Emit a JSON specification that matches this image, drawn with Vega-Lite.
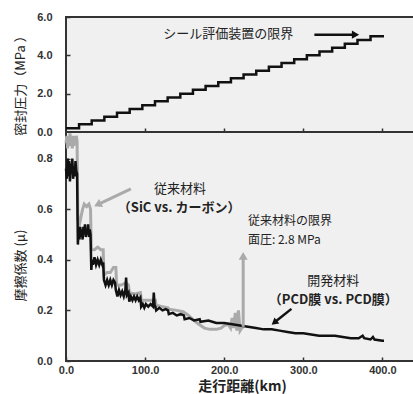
{
  "$schema": "https://vega.github.io/schema/vega-lite/v6.json",
  "background": "white",
  "padding": {"left": 13, "top": 10, "right": 0, "bottom": 0},
  "bounds": "flush",
  "spacing": 0,
  "config": {
    "view": {"fill": "#f0f0f0", "stroke": "#333333", "strokeWidth": 2},
    "axis": {
      "labelFont": "Liberation Sans", "labelFontWeight": "bold", "labelFontSize": 11, "labelColor": "#333333",
      "titleFont": "Noto Sans CJK JP", "titleColor": "#222222", "titleFontSize": 13, "titleFontWeight": "normal",
      "grid": false, "domain": false, "tickColor": "#333333", "tickWidth": 1.5, "tickSize": -4, "labelFlush": false,
      "labelOverlap": false, "labelBound": false
    }
  },
  "datasets": {
    "pressure": [
      {"km": 0, "mpa": 0.2}, {"km": 16.5, "mpa": 0.4}, {"km": 32.5, "mpa": 0.6}, {"km": 48.5, "mpa": 0.8},
      {"km": 64.5, "mpa": 1.0}, {"km": 80.5, "mpa": 1.2}, {"km": 96.5, "mpa": 1.4}, {"km": 112.5, "mpa": 1.6},
      {"km": 128.5, "mpa": 1.8}, {"km": 144.5, "mpa": 2.0}, {"km": 160.5, "mpa": 2.2}, {"km": 176.5, "mpa": 2.4},
      {"km": 192.5, "mpa": 2.6}, {"km": 208.5, "mpa": 2.8}, {"km": 224.5, "mpa": 3.0}, {"km": 240.5, "mpa": 3.2},
      {"km": 256.5, "mpa": 3.4}, {"km": 272.5, "mpa": 3.6}, {"km": 288.5, "mpa": 3.8}, {"km": 304.5, "mpa": 4.0},
      {"km": 320.5, "mpa": 4.2}, {"km": 336.5, "mpa": 4.4}, {"km": 352.5, "mpa": 4.6}, {"km": 368.5, "mpa": 4.8},
      {"km": 385, "mpa": 5.0}, {"km": 402, "mpa": 5.0}
    ],
    "conventional": [
      {"km": 0, "mu": 0.86}, {"km": 1, "mu": 0.89}, {"km": 2, "mu": 0.84}, {"km": 3, "mu": 0.88}, {"km": 4, "mu": 0.85},
      {"km": 5, "mu": 0.9}, {"km": 6, "mu": 0.86}, {"km": 7, "mu": 0.87}, {"km": 8, "mu": 0.84}, {"km": 9, "mu": 0.89},
      {"km": 10, "mu": 0.85}, {"km": 11, "mu": 0.88}, {"km": 12, "mu": 0.86}, {"km": 13, "mu": 0.89}, {"km": 14, "mu": 0.87},
      {"km": 15, "mu": 0.56}, {"km": 17, "mu": 0.54}, {"km": 19, "mu": 0.57}, {"km": 21, "mu": 0.6}, {"km": 23, "mu": 0.62},
      {"km": 26, "mu": 0.61}, {"km": 29, "mu": 0.62}, {"km": 31, "mu": 0.6},
      {"km": 32, "mu": 0.44}, {"km": 36, "mu": 0.44}, {"km": 40, "mu": 0.45}, {"km": 44, "mu": 0.44}, {"km": 47, "mu": 0.44},
      {"km": 48, "mu": 0.34}, {"km": 52, "mu": 0.35}, {"km": 56, "mu": 0.35}, {"km": 60, "mu": 0.37}, {"km": 63, "mu": 0.37},
      {"km": 64, "mu": 0.3}, {"km": 70, "mu": 0.3}, {"km": 76, "mu": 0.31}, {"km": 79, "mu": 0.3},
      {"km": 80, "mu": 0.27}, {"km": 87, "mu": 0.265}, {"km": 94, "mu": 0.27},
      {"km": 95, "mu": 0.24}, {"km": 105, "mu": 0.24}, {"km": 113, "mu": 0.24},
      {"km": 114, "mu": 0.22}, {"km": 122, "mu": 0.215}, {"km": 129, "mu": 0.21},
      {"km": 130, "mu": 0.205}, {"km": 140, "mu": 0.2}, {"km": 148, "mu": 0.195}, {"km": 155, "mu": 0.18},
      {"km": 162, "mu": 0.16}, {"km": 168, "mu": 0.145}, {"km": 175, "mu": 0.13}, {"km": 182, "mu": 0.125},
      {"km": 190, "mu": 0.125}, {"km": 196, "mu": 0.13}, {"km": 200, "mu": 0.14}, {"km": 205, "mu": 0.145},
      {"km": 208, "mu": 0.13}, {"km": 210, "mu": 0.17}, {"km": 212, "mu": 0.13}, {"km": 214, "mu": 0.19},
      {"km": 216, "mu": 0.12}, {"km": 218, "mu": 0.2}, {"km": 220, "mu": 0.12}, {"km": 222, "mu": 0.13}, {"km": 224, "mu": 0.135}
    ],
    "developed": [
      {"km": 0, "mu": 0.76}, {"km": 1, "mu": 0.72}, {"km": 2, "mu": 0.8}, {"km": 3, "mu": 0.73}, {"km": 4, "mu": 0.79},
      {"km": 5, "mu": 0.71}, {"km": 6, "mu": 0.78}, {"km": 7, "mu": 0.74}, {"km": 8, "mu": 0.8}, {"km": 9, "mu": 0.72},
      {"km": 10, "mu": 0.77}, {"km": 11, "mu": 0.73}, {"km": 12, "mu": 0.79}, {"km": 13, "mu": 0.75}, {"km": 14, "mu": 0.74},
      {"km": 15, "mu": 0.46}, {"km": 16, "mu": 0.52}, {"km": 17, "mu": 0.48}, {"km": 18, "mu": 0.53}, {"km": 19, "mu": 0.49},
      {"km": 20, "mu": 0.52}, {"km": 21, "mu": 0.48}, {"km": 22, "mu": 0.53}, {"km": 23, "mu": 0.5}, {"km": 24, "mu": 0.54},
      {"km": 25, "mu": 0.49}, {"km": 26, "mu": 0.52}, {"km": 27, "mu": 0.5}, {"km": 28, "mu": 0.54}, {"km": 29, "mu": 0.49},
      {"km": 30, "mu": 0.52}, {"km": 31, "mu": 0.5},
      {"km": 32, "mu": 0.36}, {"km": 33, "mu": 0.4}, {"km": 34, "mu": 0.38}, {"km": 36, "mu": 0.41}, {"km": 38, "mu": 0.38},
      {"km": 40, "mu": 0.4}, {"km": 42, "mu": 0.38}, {"km": 44, "mu": 0.4}, {"km": 46, "mu": 0.38}, {"km": 47, "mu": 0.39},
      {"km": 48, "mu": 0.32}, {"km": 50, "mu": 0.3}, {"km": 52, "mu": 0.32}, {"km": 54, "mu": 0.3}, {"km": 56, "mu": 0.32},
      {"km": 58, "mu": 0.3}, {"km": 60, "mu": 0.32}, {"km": 62, "mu": 0.31},
      {"km": 63, "mu": 0.28}, {"km": 65, "mu": 0.255}, {"km": 67, "mu": 0.28}, {"km": 69, "mu": 0.26}, {"km": 71, "mu": 0.275},
      {"km": 73, "mu": 0.255}, {"km": 75, "mu": 0.28}, {"km": 76, "mu": 0.33}, {"km": 77, "mu": 0.26}, {"km": 79, "mu": 0.27},
      {"km": 80, "mu": 0.235}, {"km": 82, "mu": 0.255}, {"km": 84, "mu": 0.24}, {"km": 86, "mu": 0.255}, {"km": 88, "mu": 0.24},
      {"km": 90, "mu": 0.255}, {"km": 92, "mu": 0.24}, {"km": 94, "mu": 0.25},
      {"km": 95, "mu": 0.215}, {"km": 97, "mu": 0.225}, {"km": 99, "mu": 0.21}, {"km": 101, "mu": 0.225}, {"km": 104, "mu": 0.215},
      {"km": 107, "mu": 0.225}, {"km": 110, "mu": 0.215}, {"km": 111, "mu": 0.27}, {"km": 112, "mu": 0.22}, {"km": 113, "mu": 0.215},
      {"km": 114, "mu": 0.2}, {"km": 118, "mu": 0.21}, {"km": 122, "mu": 0.2}, {"km": 126, "mu": 0.205}, {"km": 129, "mu": 0.2},
      {"km": 130, "mu": 0.185}, {"km": 135, "mu": 0.19}, {"km": 140, "mu": 0.18}, {"km": 145, "mu": 0.185}, {"km": 149, "mu": 0.18},
      {"km": 150, "mu": 0.165}, {"km": 156, "mu": 0.17}, {"km": 162, "mu": 0.16}, {"km": 169, "mu": 0.165},
      {"km": 170, "mu": 0.155}, {"km": 180, "mu": 0.16}, {"km": 190, "mu": 0.15}, {"km": 200, "mu": 0.15}, {"km": 210, "mu": 0.145},
      {"km": 220, "mu": 0.14}, {"km": 230, "mu": 0.135}, {"km": 240, "mu": 0.13}, {"km": 250, "mu": 0.125}, {"km": 260, "mu": 0.125},
      {"km": 270, "mu": 0.12}, {"km": 280, "mu": 0.115}, {"km": 290, "mu": 0.11}, {"km": 300, "mu": 0.11}, {"km": 310, "mu": 0.105},
      {"km": 320, "mu": 0.1}, {"km": 330, "mu": 0.1}, {"km": 340, "mu": 0.1}, {"km": 350, "mu": 0.095}, {"km": 360, "mu": 0.09},
      {"km": 370, "mu": 0.09}, {"km": 375, "mu": 0.1}, {"km": 377, "mu": 0.09}, {"km": 385, "mu": 0.085}, {"km": 388, "mu": 0.095},
      {"km": 390, "mu": 0.085}, {"km": 400, "mu": 0.08}, {"km": 402, "mu": 0.08}
    ]
  },
  "vconcat": [
    {
      "width": 352,
      "height": 115,
      "encoding": {
        "x": {"field": "km", "type": "quantitative", "scale": {"domain": [0, 445], "nice": false, "zero": false},
              "axis": {"labels": false, "title": null, "values": [100, 200, 300, 400]}},
        "y": {"field": "mpa", "type": "quantitative", "scale": {"domain": [0, 6], "nice": false},
              "axis": {"values": [0, 2, 4, 6], "format": ".1f", "labelPadding": 18, "labelOverlap": false, "title": "密封圧力（MPa ）", "titlePadding": 9, "titleY": 65}}
      },
      "layer": [
        {
          "data": {"name": "pressure"},
          "mark": {"type": "line", "interpolate": "step-after", "color": "#111111", "strokeWidth": 2.5}
        },
        {
          "data": {"values": [{"km": 314, "mpa": 5.08, "km2": 366}]},
          "mark": {"type": "rule", "color": "#111111", "strokeWidth": 2.5},
          "encoding": {"x2": {"field": "km2"}}
        },
        {
          "data": {"values": [{"km": 366, "mpa": 5.08}]},
          "mark": {"type": "point", "shape": "triangle-right", "filled": true, "color": "#111111", "size": 70, "opacity": 1}
        },
        {
          "data": {"values": [{"km": 205, "mpa": 5.1, "label": "シール評価装置の限界"}]},
          "mark": {"type": "text", "font": "Noto Sans CJK JP", "fontSize": 13, "color": "#222222", "align": "center", "baseline": "middle"},
          "encoding": {"text": {"field": "label"}}
        }
      ]
    },
    {
      "width": 352,
      "height": 229,
      "encoding": {
        "x": {"field": "km", "type": "quantitative", "scale": {"domain": [0, 445], "nice": false, "zero": false},
              "axis": {"values": [0, 100, 200, 300, 400], "format": ".1f", "labelPadding": 7, "title": "走行距離(km)", "titleFontWeight": "bold", "titleFontSize": 14, "titlePadding": 4}},
        "y": {"field": "mu", "type": "quantitative", "scale": {"domain": [0, 0.905], "nice": false},
              "axis": {"values": [0, 0.2, 0.4, 0.6, 0.8], "format": ".1f", "labelPadding": 18, "title": "摩擦係数 (μ)", "titlePadding": 9, "titleY": 133}}
      },
      "layer": [
        {
          "data": {"name": "conventional"},
          "mark": {"type": "line", "color": "#aaaaaa", "strokeWidth": 3}
        },
        {
          "data": {"name": "developed"},
          "mark": {"type": "line", "color": "#111111", "strokeWidth": 2.5}
        },
        {
          "data": {"values": [{"km": 82, "mu": 0.68, "km2": 40, "mu2": 0.618}, {"km": 224, "mu": 0.135, "km2": 224, "mu2": 0.415}]},
          "mark": {"type": "rule", "color": "#aaaaaa", "strokeWidth": 3},
          "encoding": {"x2": {"field": "km2"}, "y2": {"field": "mu2"}}
        },
        {
          "data": {"values": [{"km": 40, "mu": 0.618}]},
          "mark": {"type": "point", "shape": "triangle-right", "filled": true, "color": "#aaaaaa", "size": 80, "opacity": 1, "angle": 154}
        },
        {
          "data": {"values": [{"km": 224, "mu": 0.415}]},
          "mark": {"type": "point", "shape": "triangle-up", "filled": true, "color": "#aaaaaa", "size": 80, "opacity": 1}
        },
        {
          "data": {"values": [{"km": 285, "mu": 0.206, "km2": 263.3, "mu2": 0.152}]},
          "mark": {"type": "rule", "color": "#111111", "strokeWidth": 2.5},
          "encoding": {"x2": {"field": "km2"}, "y2": {"field": "mu2"}}
        },
        {
          "data": {"values": [{"km": 263.3, "mu": 0.152}]},
          "mark": {"type": "point", "shape": "triangle-right", "filled": true, "color": "#111111", "size": 60, "opacity": 1, "angle": 141}
        },
        {
          "data": {"values": [
            {"km": 144, "mu": 0.68, "label": "従来材料"},
            {"km": 338, "mu": 0.316, "label": "開発材料"}
          ]},
          "mark": {"type": "text", "font": "Noto Sans CJK JP", "fontSize": 13, "color": "#222222", "align": "center", "baseline": "middle"},
          "encoding": {"text": {"field": "label"}}
        },
        {
          "data": {"values": [
            {"km": 143, "mu": 0.606, "label": "（SiC vs. カーボン）"},
            {"km": 338, "mu": 0.242, "label": "（PCD膜 vs. PCD膜）"}
          ]},
          "mark": {"type": "text", "font": "Noto Sans CJK JP", "fontSize": 13, "fontWeight": "bold", "color": "#222222", "align": "center", "baseline": "middle"},
          "encoding": {"text": {"field": "label"}}
        },
        {
          "data": {"values": [
            {"km": 230, "mu": 0.552, "label": "従来材料の限界"},
            {"km": 230, "mu": 0.48, "label": "面圧: 2.8 MPa"}
          ]},
          "mark": {"type": "text", "font": "Noto Sans CJK JP", "fontSize": 12, "color": "#222222", "align": "left", "baseline": "middle"},
          "encoding": {"text": {"field": "label"}}
        }
      ]
    }
  ]
}
